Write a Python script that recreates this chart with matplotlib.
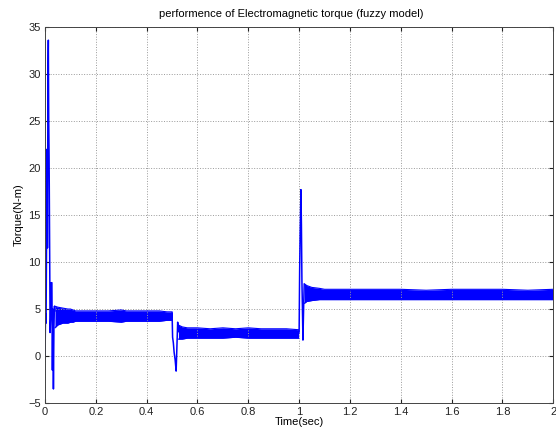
import matplotlib
matplotlib.use("Agg")
import matplotlib.pyplot as plt

plt.rcParams['font.family'] = ['Liberation Sans', 'DejaVu Sans']

# ---- data ----
# start-up transient
t_start = [0.000, 0.002, 0.004, 0.006, 0.008, 0.0095, 0.0115, 0.013, 0.0145, 0.016,
           0.018, 0.020, 0.022, 0.024, 0.027, 0.029, 0.031, 0.033, 0.035, 0.037, 0.039]
torque_start = [0.0, 4.5, 3.5, 12.0, 22.0, 11.5, 30.0, 33.6, 25.0, 21.0,
                12.0, 2.5, 4.0, 7.8, 7.8, -1.5, 5.0, -3.5, 3.0, 5.3, 4.8]

# load step at 0.5 s
t_step1 = [0.498, 0.500, 0.502, 0.505, 0.508, 0.512, 0.516, 0.519, 0.522, 0.525]
torque_step1 = [4.2, 4.6, 2.0, 1.4, 0.4, -0.4, -1.6, 1.0, 3.6, 2.6]

# load step at 1.0 s
t_step2 = [0.998, 1.000, 1.002, 1.004, 1.006, 1.007, 1.009, 1.011, 1.013, 1.015, 1.018, 1.020]
torque_step2 = [2.4, 2.6, 9.0, 13.0, 16.0, 17.7, 14.0, 8.0, 5.0, 1.7, 5.5, 7.6]

# ripple envelope, segment 1 (0.039 - 0.5 s)
t_band1 = [0.039, 0.05, 0.07, 0.09, 0.10, 0.11, 0.12, 0.15, 0.20, 0.25, 0.30, 0.32,
           0.35, 0.40, 0.45, 0.48, 0.50]
upper1 = [5.3, 5.2, 5.1, 5.0, 5.0, 4.9, 4.8, 4.8, 4.8, 4.8, 4.9, 4.8,
          4.8, 4.8, 4.8, 4.7, 4.7]
lower1 = [3.0, 3.3, 3.5, 3.5, 3.6, 3.6, 3.7, 3.7, 3.7, 3.7, 3.6, 3.7,
          3.7, 3.7, 3.7, 3.8, 3.8]

# ripple envelope, segment 2 (0.525 - 1.0 s)
t_band2 = [0.525, 0.54, 0.56, 0.60, 0.65, 0.70, 0.75, 0.80, 0.85, 0.90, 0.95, 0.998]
upper2 = [3.3, 3.1, 3.0, 3.0, 2.9, 3.0, 2.9, 3.0, 2.9, 2.9, 2.9, 2.8]
lower2 = [1.8, 1.8, 1.9, 1.9, 1.9, 1.9, 2.0, 1.9, 1.9, 1.9, 1.9, 1.9]

# ripple envelope, segment 3 (1.02 - 2.0 s)
t_band3 = [1.020, 1.03, 1.05, 1.08, 1.10, 1.20, 1.30, 1.40, 1.50, 1.60,
           1.70, 1.80, 1.90, 2.00]
upper3 = [7.7, 7.5, 7.3, 7.2, 7.1, 7.1, 7.1, 7.1, 7.0, 7.1,
          7.1, 7.1, 7.0, 7.1]
lower3 = [5.6, 5.8, 5.9, 6.0, 6.0, 6.0, 6.0, 6.0, 6.0, 6.0,
          6.0, 6.0, 6.0, 6.0]

x_ticks = [0, 0.2, 0.4, 0.6, 0.8, 1, 1.2, 1.4, 1.6, 1.8, 2]
x_tick_labels = ['0', '0.2', '0.4', '0.6', '0.8', '1', '1.2', '1.4', '1.6', '1.8', '2']
y_ticks = [-5, 0, 5, 10, 15, 20, 25, 30, 35]

# ---- figure ----
fig = plt.figure(figsize=(5.56, 4.32), dpi=100)
ax = fig.add_axes([0.081, 0.067, 0.914, 0.8705])

line_color = '#0000ff'
for tb, up, lo in [(t_band1, upper1, lower1), (t_band2, upper2, lower2), (t_band3, upper3, lower3)]:
    ax.fill_between(tb, lo, up, color=line_color, linewidth=0)
    ax.plot(tb, up, color=line_color, lw=0.8)
    ax.plot(tb, lo, color=line_color, lw=0.8)

for tt, vv in [(t_start, torque_start), (t_step1, torque_step1), (t_step2, torque_step2)]:
    ax.plot(tt, vv, color=line_color, lw=1.1)

ax.set_xlim(0, 2)
ax.set_ylim(-5, 35)
ax.set_xticks(x_ticks)
ax.set_xticklabels(x_tick_labels)
ax.set_yticks(y_ticks)
ax.grid(True, linestyle=':', color='#9a9a9a', linewidth=0.7)
ax.tick_params(direction='in', length=3, labelsize=8, top=True, right=True, pad=3,
               colors='#222222')
for s in ax.spines.values():
    s.set_color('#444444')
    s.set_linewidth(0.7)

ax.set_title('performence of Electromagnetic torque (fuzzy model)', fontsize=8, pad=7, x=0.485)
ax.set_xlabel('Time(sec)', fontsize=8, labelpad=0)
ax.set_ylabel('Torque(N-m)', fontsize=8, labelpad=3)

fig.savefig('out.png', dpi=100, facecolor='white')
